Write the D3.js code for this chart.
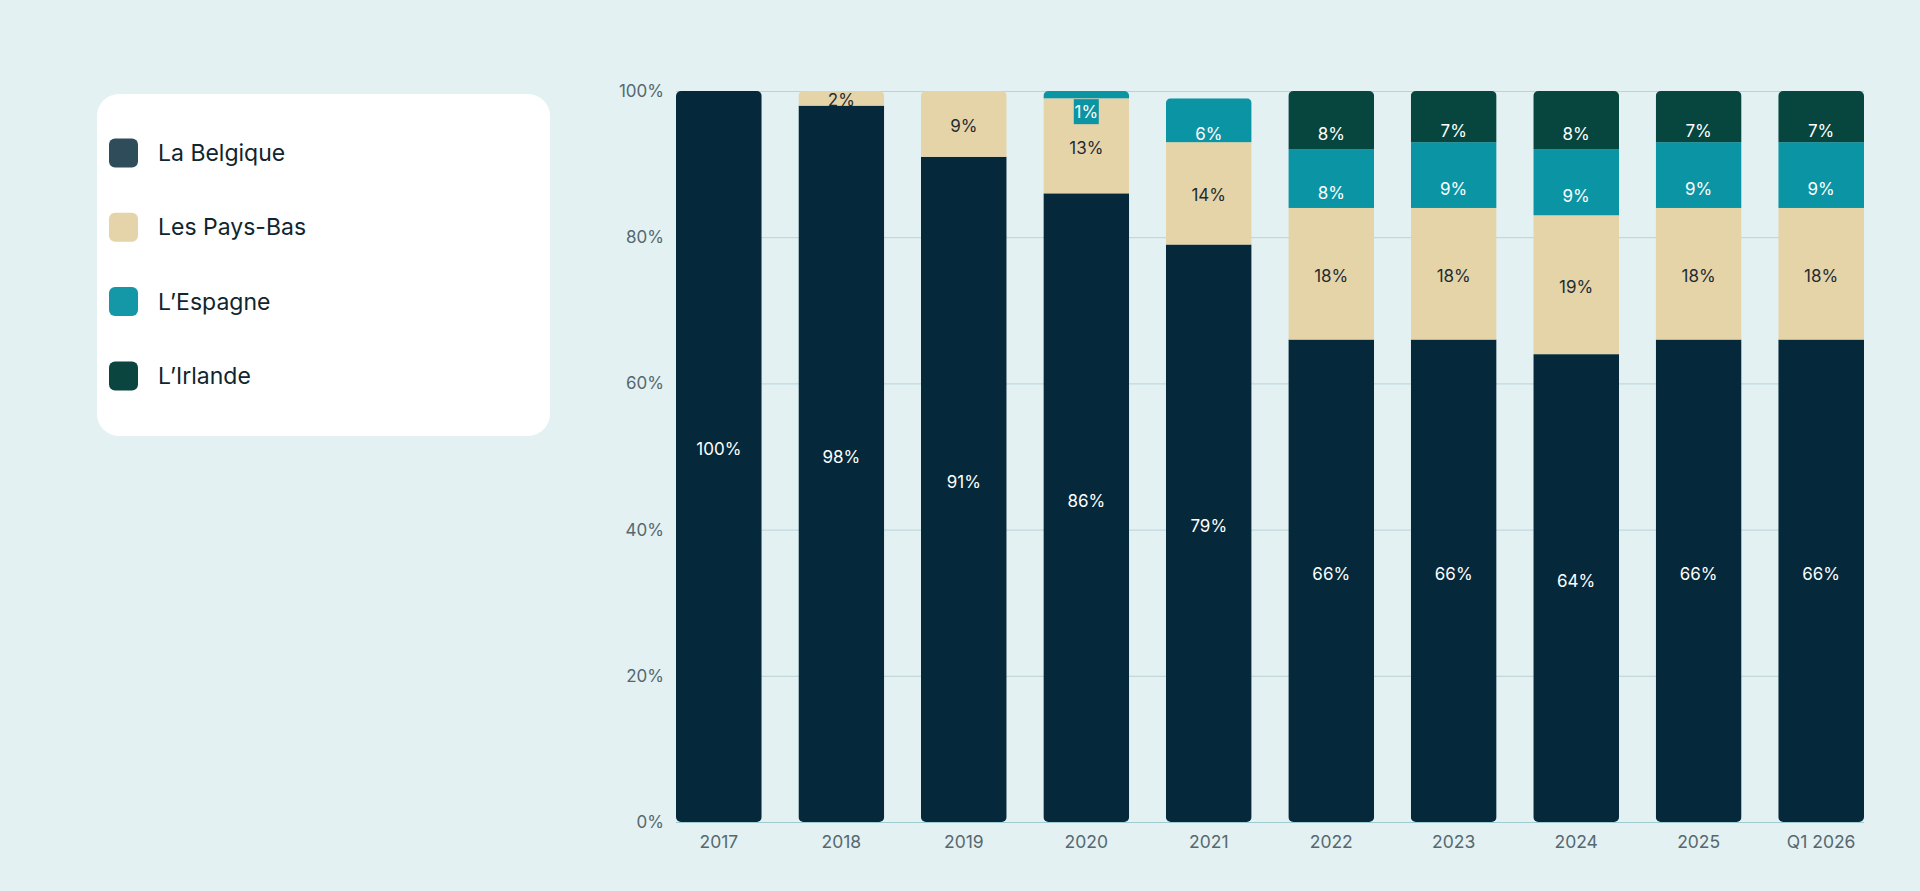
<!DOCTYPE html>
<html>
<head>
<meta charset="utf-8">
<script src="https://cdn.jsdelivr.net/npm/d3@7"></script>
<style>
  html, body { margin: 0; padding: 0; background: #e3f1f3; }
  svg { display: block; font-family: "Inter", "Noto Sans", sans-serif; }
</style>
</head>
<body>
<script>
// categories and series (share in %)
var categories = ["2017", "2018", "2019", "2020", "2021", "2022", "2023", "2024", "2025", "Q1 2026"];
var belgique = [100, 98, 91, 86, 79, 66, 66, 64, 66, 66];
var paysBas  = [0, 2, 9, 13, 14, 18, 18, 19, 18, 18];
var espagne  = [0, 0, 0, 1, 6, 8, 9, 9, 9, 9];
var irlande  = [0, 0, 0, 0, 0, 8, 7, 8, 7, 7];
var seriesNames = ["La Belgique", "Les Pays-Bas", "L\u2019Espagne", "L\u2019Irlande"];
var yTicks = [0, 20, 40, 60, 80, 100];

var colors = ["#05293a", "#e6d4a9", "#0b94a4", "#06463e"];
var legendColors = ["#2e4c5a", "#e5d4aa", "#1497a6", "#0a4540"];
var labelColors = ["#ffffff", "#1f2c33", "#ffffff", "#ffffff"];
var labelShift = [-7, 2, 14, 14];   // px shift of each series' labels from the slice middle

var w = 1920, h = 891;
var margin = {top: 91, left: 676, right: 56, bottom: 69};

var svg = d3.select("body").append("svg")
  .attr("width", w)
  .attr("height", h);

// rows for the stack
var rows = categories.map(function(c, i) {
  return {cat: c, s0: belgique[i], s1: paysBas[i], s2: espagne[i], s3: irlande[i]};
});
var keys = ["s0", "s1", "s2", "s3"];
var stacked = d3.stack().keys(keys)(rows);

var x = d3.scaleBand()
  .domain(categories)
  .range([margin.left, w - margin.right])
  .paddingInner(0.3)
  .paddingOuter(0);

var y = d3.scaleLinear()
  .domain([0, 100])
  .range([h - margin.bottom, margin.top]);

// gridlines
svg.append("g")
  .selectAll("line")
  .data(yTicks)
  .enter()
  .append("line")
  .attr("x1", margin.left)
  .attr("x2", w - margin.right)
  .attr("y1", function(d) { return y(d) + 0.5; })
  .attr("y2", function(d) { return y(d) + 0.5; })
  .attr("stroke", function(d) { return d === 0 ? "#9fcbd0" : "#b9d3d8"; })
  .attr("stroke-width", 1);

// y axis
var yAxis = svg.append("g")
  .attr("transform", "translate(" + (margin.left) + ",0)")
  .call(d3.axisLeft(y).tickValues(yTicks).tickSize(0).tickPadding(12)
    .tickFormat(function(d) { return d + "%"; }));
yAxis.select(".domain").remove();
yAxis.selectAll("text")
  .attr("font-size", "17px")
  .attr("font-family", "Inter, sans-serif")
  .attr("fill", "#56686f");

// x axis
var xAxis = svg.append("g")
  .attr("transform", "translate(0," + (h - margin.bottom) + ")")
  .call(d3.axisBottom(x).tickSize(0).tickPadding(14));
xAxis.select(".domain").remove();
xAxis.selectAll("text")
  .attr("font-size", "17.5px")
  .attr("font-family", "Inter, sans-serif")
  .attr("fill", "#56686f");

// clip paths: one rounded column per category
var defs = svg.append("defs");
rows.forEach(function(r, i) {
  var total = r.s0 + r.s1 + r.s2 + r.s3;
  defs.append("clipPath")
    .attr("id", "col" + i)
    .append("rect")
    .attr("x", x(r.cat))
    .attr("y", y(total))
    .attr("width", x.bandwidth())
    .attr("height", y(0) - y(total))
    .attr("rx", 5);
});

// bars
var layers = svg.selectAll("g.layer")
  .data(stacked)
  .enter()
  .append("g")
  .attr("class", "layer")
  .attr("fill", function(d, i) { return colors[i]; });

layers.selectAll("rect")
  .data(function(d) { return d; })
  .enter()
  .append("rect")
  .filter(function(d) { return d[1] - d[0] > 0; })
  .attr("clip-path", function(d) { return "url(#col" + categories.indexOf(d.data.cat) + ")"; })
  .attr("x", function(d) { return x(d.data.cat); })
  .attr("y", function(d) { return y(d[1]); })
  .attr("width", x.bandwidth())
  .attr("height", function(d) { return y(d[0]) - y(d[1]); });

// value labels
var labels = svg.append("g");
stacked.forEach(function(layer, si) {
  layer.forEach(function(d) {
    var v = d[1] - d[0];
    if (v <= 0) return;
    var cx = x(d.data.cat) + x.bandwidth() / 2;
    var ly = y((d[0] + d[1]) / 2) + labelShift[si];
    if (v < 1.5) {
      // tiny slice: label on its own coloured tag
      ly += 3;
      labels.append("rect")
        .attr("x", cx - 12.5)
        .attr("y", ly - 12.5)
        .attr("width", 25)
        .attr("height", 25)
        .attr("fill", colors[si]);
    }
    labels.append("text")
      .attr("x", cx)
      .attr("y", ly)
      .attr("dy", "0.35em")
      .attr("text-anchor", "middle")
      .attr("font-size", "17px")
      .attr("fill", labelColors[si])
      .text(v + "%");
  });
});

// legend
var legend = svg.append("g");
legend.append("rect")
  .attr("x", 97)
  .attr("y", 94)
  .attr("width", 453)
  .attr("height", 342)
  .attr("rx", 22)
  .attr("fill", "#ffffff");

var item = legend.selectAll("g.item")
  .data(seriesNames)
  .enter()
  .append("g")
  .attr("class", "item")
  .attr("transform", function(d, i) { return "translate(109," + (153 + i * 74.3) + ")"; });

item.append("rect")
  .attr("x", 0)
  .attr("y", -14.5)
  .attr("width", 29)
  .attr("height", 29)
  .attr("rx", 6)
  .attr("fill", function(d, i) { return legendColors[i]; });

item.append("text")
  .attr("x", 49)
  .attr("dy", "0.35em")
  .attr("font-size", "23px")
  .attr("fill", "#10262e")
  .text(function(d) { return d; });
</script>
</body>
</html>
